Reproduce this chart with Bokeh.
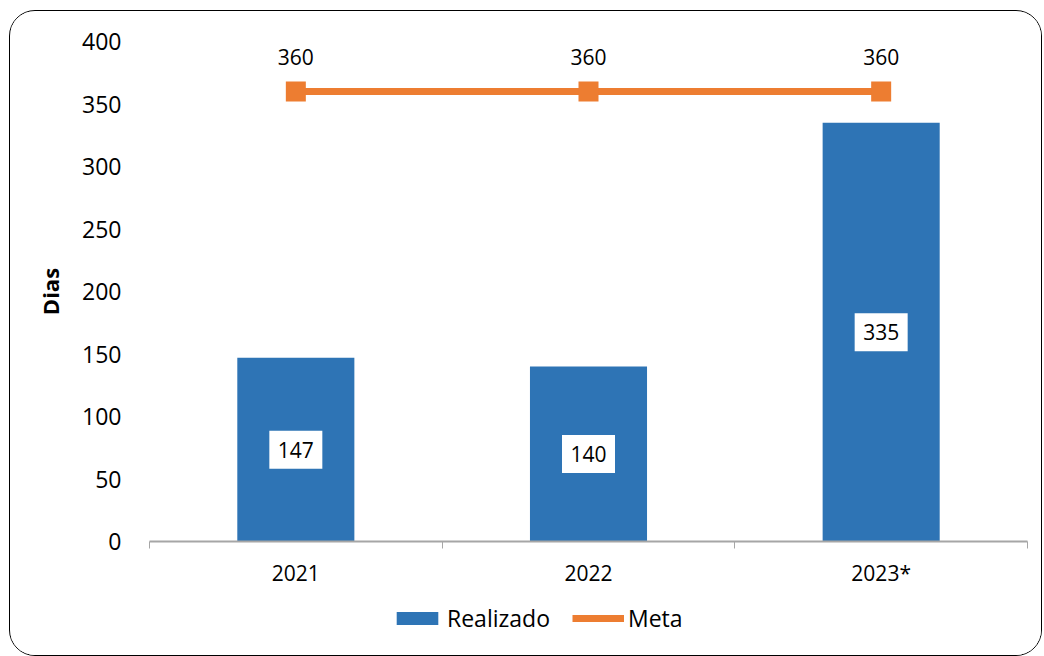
from bokeh.plotting import figure
from bokeh.layouts import column
from bokeh.models import (ColumnDataSource, Range1d, LinearAxis,
                          FixedTicker, Legend, LegendItem, LabelSet)
from bokeh.core.properties import value
from bokeh.embed import file_html
from bokeh.resources import INLINE

years = ["2021", "2022", "2023*"]
realizado = [147, 140, 335]
meta = [360, 360, 360]
y_ticks = [0, 50, 100, 150, 200, 250, 300, 350, 400]

BLUE = "#2E74B5"
ORANGE = "#ED7D31"
FONT = "Open Sans"

n = len(years)
centers = [i + 0.5 for i in range(n)]
bounds = list(range(n + 1))

src = ColumnDataSource(dict(
    x=centers, realizado=realizado, meta=meta,
    half=[v / 2 for v in realizado],
    rlab=[str(v) for v in realizado],
    mlab=[str(v) for v in meta],
))

p = figure(width=1031, height=580, x_range=Range1d(0, n), y_range=Range1d(0, 400),
           output_backend="svg", toolbar_location=None, x_axis_location=None)
p.min_border_left = 139
p.min_border_right = 14
p.min_border_top = 30
p.min_border_bottom = 50
p.outline_line_color = None
p.grid.grid_line_color = None
p.background_fill_color = "white"
p.border_fill_color = "white"

# y axis
p.yaxis.ticker = FixedTicker(ticks=y_ticks)
p.yaxis.axis_line_color = None
p.yaxis.major_tick_line_color = None
p.yaxis.minor_tick_line_color = None
p.yaxis.major_label_text_font = FONT
p.yaxis.major_label_text_font_size = "23px"
p.yaxis.major_label_text_color = "#000000"
p.yaxis.major_label_standoff = 22
p.yaxis.axis_label = "Dias"
p.yaxis.axis_label_text_font = FONT
p.yaxis.axis_label_text_font_style = "bold"
p.yaxis.axis_label_text_font_size = "22px"
p.yaxis.axis_label_text_color = "#000000"
p.yaxis.axis_label_standoff = 14

# x axis: labels at centres, minor ticks at category boundaries
xax = LinearAxis(ticker=FixedTicker(ticks=centers, minor_ticks=bounds),
                 major_label_overrides={c: y for c, y in zip(centers, years)},
                 axis_line_color="#A6A6A6", axis_line_width=2,
                 major_tick_line_color=None,
                 minor_tick_line_color="#A6A6A6", minor_tick_line_width=1,
                 minor_tick_in=0, minor_tick_out=7,
                 major_label_text_font=FONT, major_label_text_font_size="21px",
                 major_label_text_color="#000000", major_label_standoff=10)
p.add_layout(xax, "below")

p.vbar(x="x", top="realizado", width=0.4, source=src, color=BLUE, line_color=None)
p.line(x="x", y="meta", source=src, color=ORANGE, line_width=7)
p.scatter(x="x", y="meta", source=src, marker="square", size=20, color=ORANGE, line_color=None)

# labels
p.rect(x="x", y="half", width=53, height=38, width_units="screen", height_units="screen",
       source=src, fill_color="white", line_color=None)
p.add_layout(LabelSet(x="x", y="half", text="rlab", source=src, text_align="center",
                      text_baseline="middle", text_font=value(FONT), text_font_size="21px",
                      text_color="#000000"))
p.add_layout(LabelSet(x="x", y="meta", text="mlab", source=src, text_align="center",
                      text_baseline="middle", y_offset=35, text_font=value(FONT),
                      text_font_size="21px", text_color="#000000"))

# legend strip below (own figure so the legend is not clipped); its glyphs lie out of view
q = figure(width=1031, height=64, x_range=Range1d(10, 11), y_range=Range1d(1000, 1001),
           output_backend="svg", toolbar_location=None,
           x_axis_location=None, y_axis_location=None)
q.min_border = 0
q.outline_line_color = None
q.grid.grid_line_color = None
q.border_fill_color = "white"
q.background_fill_color = "white"
lb = q.vbar(x="x", top="realizado", width=0.4, source=src, color=BLUE, line_color=None)
ll = q.line(x="x", y="meta", source=src, color=ORANGE, line_width=7)
lm = q.scatter(x="x", y="meta", source=src, marker="square", size=20, color=ORANGE, line_color=None)
legend = Legend(items=[LegendItem(label="Realizado", renderers=[lb]),
                       LegendItem(label="Meta", renderers=[ll, lm])],
                orientation="horizontal", location=(242, 21),
                label_text_font=FONT, label_text_font_size="23px", label_text_color="#000000",
                glyph_width=52, glyph_height=16, spacing=22, label_standoff=4,
                border_line_color=None, background_fill_alpha=0, margin=0, padding=4)
q.add_layout(legend, "center")

layout = column(p, q, spacing=0)
layout.styles = {"border": "1.5px solid #000000", "border-radius": "26px",
                 "margin-left": "9px", "margin-top": "10px", "overflow": "hidden",
                 "background-color": "white"}

open("out.html", "w").write(file_html(layout, INLINE))
